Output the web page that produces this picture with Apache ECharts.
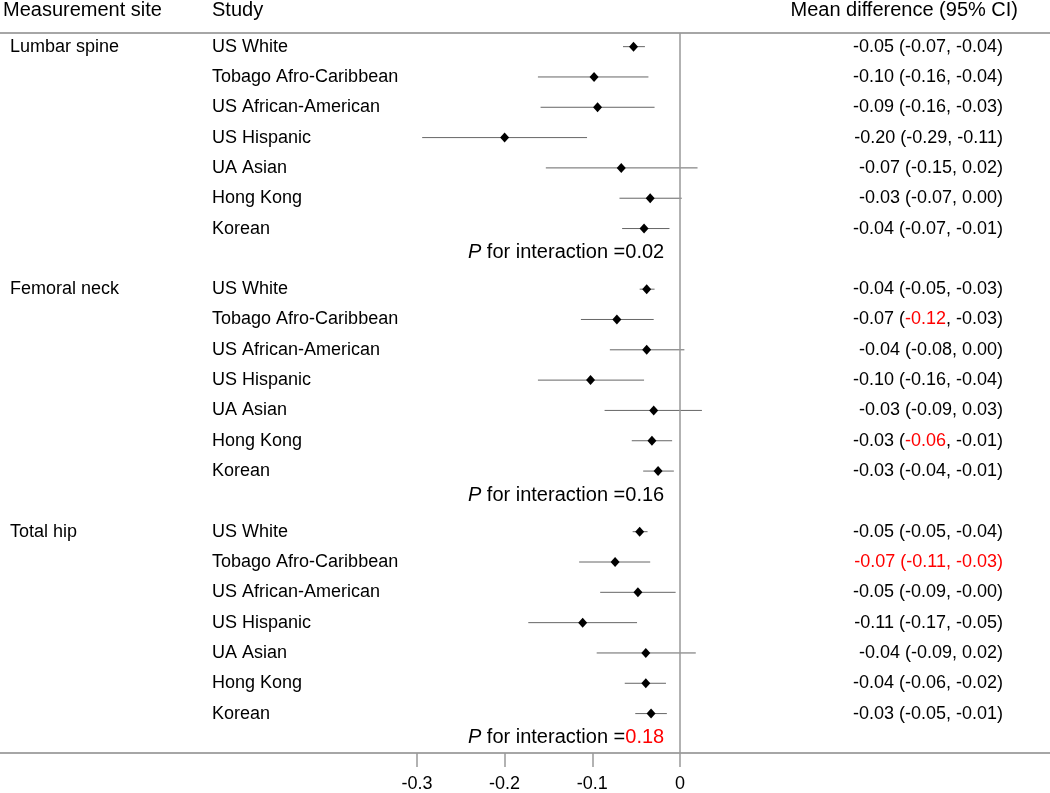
<!DOCTYPE html>
<html>
<head>
<meta charset="utf-8">
<script src="https://cdn.jsdelivr.net/npm/echarts@6/dist/echarts.min.js"></script>
<style>
    html, body { margin: 0; padding: 0; background: #fff; }
    #main { width: 1050px; height: 793px; }
</style>
</head>
<body>
<div id="main"></div>
<script>
const sites = ['Lumbar spine', 'Femoral neck', 'Total hip'];
const studies = ['US White', 'Tobago Afro-Caribbean', 'US African-American', 'US Hispanic', 'UA Asian', 'Hong Kong', 'Korean'];

// plotted estimates and CI ends, one list per site
const estimate = [
    [-0.053, -0.098, -0.094, -0.200, -0.067, -0.034, -0.041],
    [-0.038, -0.072, -0.038, -0.102, -0.030, -0.032, -0.025],
    [-0.046, -0.074, -0.048, -0.111, -0.039, -0.039, -0.033],
];
const lower = [
    [-0.065, -0.162, -0.159, -0.294, -0.153, -0.069, -0.066],
    [-0.046, -0.113, -0.080, -0.162, -0.086, -0.055, -0.042],
    [-0.054, -0.115, -0.091, -0.173, -0.095, -0.063, -0.051],
];
const upper = [
    [-0.040, -0.036, -0.029, -0.106, 0.020, 0.002, -0.012],
    [-0.029, -0.030, 0.005, -0.041, 0.025, -0.009, -0.007],
    [-0.037, -0.034, -0.005, -0.049, 0.018, -0.016, -0.015],
];
// printed column, {r|..} marks the red parts
const ciText = [
    ['-0.05 (-0.07, -0.04)', '-0.10 (-0.16, -0.04)', '-0.09 (-0.16, -0.03)', '-0.20 (-0.29, -0.11)', '-0.07 (-0.15, 0.02)', '-0.03 (-0.07, 0.00)', '-0.04 (-0.07, -0.01)'],
    ['-0.04 (-0.05, -0.03)', '-0.07 ({r|-0.12}, -0.03)', '-0.04 (-0.08, 0.00)', '-0.10 (-0.16, -0.04)', '-0.03 (-0.09, 0.03)', '-0.03 ({r|-0.06}, -0.01)', '-0.03 (-0.04, -0.01)'],
    ['-0.05 (-0.05, -0.04)', '{r|-0.07 (-0.11, -0.03)}', '-0.05 (-0.09, -0.00)', '-0.11 (-0.17, -0.05)', '-0.04 (-0.09, 0.02)', '-0.04 (-0.06, -0.02)', '-0.03 (-0.05, -0.01)'],
];
const pInteraction = ['0.02', '0.16', '{r|0.18}'];
const xTicks = [-0.3, -0.2, -0.1, 0];

const FONT = "'Liberation Sans', Arial, sans-serif";
const RED = '#ff0000';

// layout (x in axis units)
const xMin = -0.7754, xMax = 0.4219;
const col = { site: -0.764, study: -0.5336, ci: 0.3683, p: -0.2418 };
const rowsPerSite = studies.length + 1;
const pRow = 6.8;

const pointData = [], ciData = [], siteData = [], studyData = [], ciTextData = [], pData = [];
sites.forEach((site, s) => {
    const base = s * rowsPerSite;
    siteData.push({ value: [col.site, base], name: site });
    studies.forEach((st, i) => {
        const row = base + i;
        pointData.push([estimate[s][i], row]);
        ciData.push([lower[s][i], upper[s][i], row]);
        studyData.push({ value: [col.study, row], name: st });
        ciTextData.push({ value: [col.ci, row], name: ciText[s][i] });
    });
    pData.push({ value: [col.p, base + pRow], name: '{i|P} for interaction =' + pInteraction[s] });
});

const rich = (size) => ({
    r: { color: RED, fontSize: size, fontFamily: FONT },
    i: { fontStyle: 'italic', color: '#000', fontSize: size, fontFamily: FONT },
});

const textSeries = (data, pos, size) => ({
    type: 'scatter',
    symbolSize: 0,
    silent: true,
    clip: false,
    data: data,
    itemStyle: { opacity: 1 },
    label: {
        show: true,
        position: pos,
        distance: 0,
        formatter: (p) => p.name,
        fontFamily: FONT,
        fontSize: size,
        color: '#000',
        rich: rich(size),
    },
    z: 5,
});

const chart = echarts.init(document.getElementById('main'), null, { renderer: 'canvas' });
const headStyle = { fontFamily: FONT, fontSize: 20, fontWeight: 'normal', color: '#000' };
chart.setOption({
    animation: false,
    backgroundColor: '#fff',
    title: [
        { text: 'Measurement site', left: 3, top: 0, padding: 0, textStyle: headStyle },
        { text: 'Study', left: 212, top: 0, padding: 0, textStyle: headStyle },
        { text: 'Mean difference (95% CI)', right: 32, top: 0, padding: 0, textStyle: headStyle },
    ],
    grid: { left: 0, right: 0, top: 33, bottom: 39 },
    xAxis: [
        {
            type: 'value',
            min: xMin,
            max: xMax,
            splitLine: { show: false },
            axisLine: { onZero: false, lineStyle: { color: '#a6a6a6', width: 2 } },
            axisTick: { show: true, customValues: xTicks, length: 14, lineStyle: { color: '#999', width: 1.5 } },
            axisLabel: {
                customValues: xTicks,
                margin: 22,
                fontFamily: FONT,
                fontSize: 18,
                color: '#000',
                formatter: (v) => (v === 0 ? '0' : v.toFixed(1)),
            },
        },
        {
            type: 'value',
            position: 'top',
            min: xMin,
            max: xMax,
            splitLine: { show: false },
            axisLine: { show: true, onZero: false, lineStyle: { color: '#a6a6a6', width: 2 } },
            axisTick: { show: false },
            axisLabel: { show: false },
        },
    ],
    yAxis: {
        type: 'value',
        inverse: true,
        min: -0.45,
        max: 23.3,
        show: false,
    },
    series: [
        {
            type: 'custom',
            name: 'ci',
            silent: true,
            data: ciData,
            encode: { x: [0, 1], y: 2 },
            renderItem: (params, api) => {
                const a = api.coord([api.value(0), api.value(2)]);
                const b = api.coord([api.value(1), api.value(2)]);
                return {
                    type: 'line',
                    shape: { x1: a[0], y1: a[1], x2: b[0], y2: b[1] },
                    style: { stroke: '#666', lineWidth: 1 },
                };
            },
            markLine: {
                silent: true,
                symbol: 'none',
                label: { show: false },
                lineStyle: { color: '#999', width: 1.5, type: 'solid' },
                data: [{ xAxis: 0 }],
            },
        },
        {
            type: 'scatter',
            name: 'estimate',
            silent: true,
            symbol: 'diamond',
            symbolSize: [9, 10],
            itemStyle: { color: '#000', opacity: 1 },
            data: pointData,
            z: 4,
        },
        textSeries(siteData, 'right', 18),
        textSeries(studyData, 'right', 18),
        textSeries(ciTextData, 'left', 18),
        textSeries(pData, 'right', 20),
    ],
});
</script>
</body>
</html>
